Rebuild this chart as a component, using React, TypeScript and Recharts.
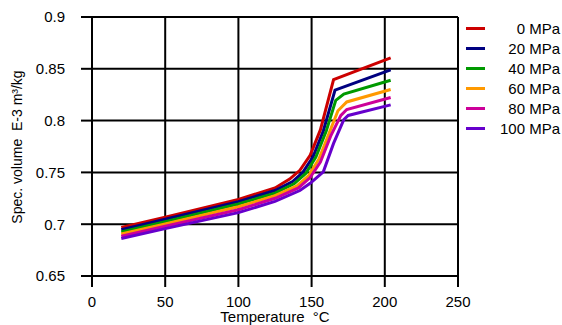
import { LineChart, Line, XAxis, YAxis, CartesianGrid } from 'recharts';

// temperature (°C) / specific volume (E-3 m³/kg)
const temps0 = [20, 50, 100, 125, 135, 142, 149, 156, 165, 204];
const vols0 = [0.6968, 0.7068, 0.7240, 0.7350, 0.7435, 0.7520, 0.7665, 0.7910, 0.8395, 0.8605];

const temps20 = [20, 50, 100, 125, 137, 144, 151, 158, 166, 204];
const vols20 = [0.6947, 0.7047, 0.7218, 0.7325, 0.7412, 0.7500, 0.7650, 0.7900, 0.8295, 0.8490];

const temps40 = [20, 50, 100, 125, 138, 146, 153, 160, 166.5, 172, 204];
const vols40 = [0.6926, 0.7025, 0.7195, 0.7300, 0.7390, 0.7490, 0.7650, 0.7900, 0.8195, 0.8255, 0.8390];

const temps60 = [20, 50, 100, 125, 140, 148, 155, 162, 168, 174, 204];
const vols60 = [0.6905, 0.7002, 0.7168, 0.7275, 0.7370, 0.7470, 0.7630, 0.7880, 0.8095, 0.8180, 0.8300];

const temps80 = [20, 50, 100, 125, 141, 149, 156, 163, 170, 174, 204];
const vols80 = [0.6884, 0.6980, 0.7140, 0.7250, 0.7350, 0.7450, 0.7600, 0.7850, 0.8050, 0.8107, 0.8223];

const temps100 = [20, 50, 100, 125, 142, 149, 158, 165, 172, 175, 204];
const vols100 = [0.6862, 0.6957, 0.7112, 0.7220, 0.7325, 0.7395, 0.7505, 0.7780, 0.8010, 0.8050, 0.8152];

const seriesNames = ['0 MPa', '20 MPa', '40 MPa', '60 MPa', '80 MPa', '100 MPa'];
const seriesColors = ['#cc0000', '#000080', '#009900', '#ff9900', '#cc0099', '#6600cc'];
const seriesTemps = [temps0, temps20, temps40, temps60, temps80, temps100];
const seriesVols = [vols0, vols20, vols40, vols60, vols80, vols100];

const xTicks = [0, 50, 100, 150, 200, 250];
const yTicks = [0.65, 0.7, 0.75, 0.8, 0.85, 0.9];

const FONT = '"Liberation Sans", Arial, sans-serif';

const series = seriesNames.map((name, i) => ({
  name,
  color: seriesColors[i],
  data: seriesTemps[i].map((t, j) => ({ t, v: seriesVols[i][j] })),
}));

// legend sits outside the chart so it doesn't shrink the plot area
const LegendBox = () => (
  <div
    style={{
      position: 'absolute',
      left: 462,
      top: 18,
      width: 98,
      fontFamily: FONT,
      fontSize: 15,
      color: '#000',
    }}
  >
    {series.map((s) => (
      <div key={s.name} style={{ display: 'flex', alignItems: 'center', height: 20 }}>
        <div style={{ width: 19, height: 3, background: s.color, marginLeft: 4 }} />
        <div style={{ flex: 1, textAlign: 'right' }}>{s.name}</div>
      </div>
    ))}
  </div>
);

const YTitle = () => (
  <text
    x={22}
    y={147}
    transform="rotate(-90 22 147)"
    textAnchor="middle"
    fontFamily={FONT}
    fontSize={14}
    fill="#000"
  >
    {'Spec. volume\u00a0\u00a0E-3 m³/kg'}
  </text>
);

export default function App() {
  return (
    <div style={{ position: 'absolute', left: 0, top: 0, width: 562, height: 325 }}>
      <LineChart width={562} height={325} margin={{ top: 17, right: 104, bottom: 0, left: 0 }}>
        <CartesianGrid stroke="#000" strokeWidth={2} />
        <XAxis
          type="number"
          dataKey="t"
          domain={[0, 250]}
          ticks={xTicks}
          height={49}
          axisLine={false}
          tickSize={11}
          tickMargin={9}
          tickLine={{ stroke: '#000', strokeWidth: 2 }}
          tick={{ fill: '#000', fontSize: 15, fontFamily: FONT }}
          label={{
            value: 'Temperature\u00a0\u00a0°C',
            position: 'insideBottom',
            offset: 3,
            fill: '#000',
            fontSize: 15,
            fontFamily: FONT,
          }}
        />
        <YAxis
          type="number"
          dataKey="v"
          domain={[0.65, 0.9]}
          ticks={yTicks}
          width={92}
          axisLine={false}
          tickSize={11}
          tickMargin={16}
          tickLine={{ stroke: '#000', strokeWidth: 2 }}
          tick={{ fill: '#000', fontSize: 15, fontFamily: FONT }}
          label={<YTitle />}
        />
        {series.map((s) => (
          <Line
            key={s.name}
            data={s.data}
            dataKey="v"
            name={s.name}
            type="linear"
            stroke={s.color}
            strokeWidth={3}
            dot={false}
            isAnimationActive={false}
          />
        ))}
      </LineChart>
      <LegendBox />
    </div>
  );
}
